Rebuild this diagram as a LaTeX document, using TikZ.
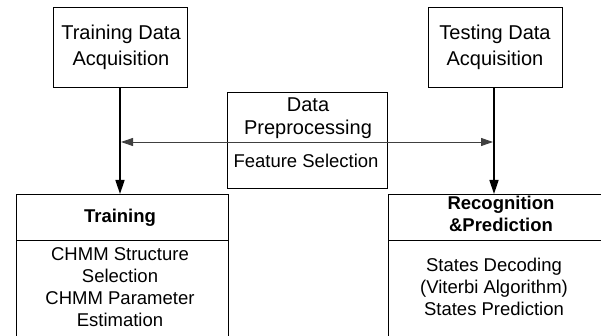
\documentclass[tikz,border=0pt]{standalone}
\usepackage{fontspec}
\setmainfont{Liberation Sans}
\usetikzlibrary{arrows.meta}
\begin{document}
\begin{tikzpicture}[x=1pt,y=-1pt,
  box/.style={draw, line width=0.8pt, inner sep=0pt},
  bigtxt/.style={font=\fontsize{20}{24}\selectfont, anchor=base, inner sep=0pt},
  smalltxt/.style={font=\fontsize{18.5}{22}\selectfont, anchor=base, inner sep=0pt},
  boldtxt/.style={font=\fontsize{18.5}{22}\selectfont\bfseries, anchor=base, inner sep=0pt},
  flow/.style={line width=1.6pt, -{Triangle[length=14pt,width=9pt]}},
  link/.style={line width=0.9pt, draw=black!75, {Triangle[length=12pt,width=8pt]}-{Triangle[length=12pt,width=8pt]}}]
\useasboundingbox (0,0) rectangle (601,336);
\clip (0,0) rectangle (601,336);
% top boxes
\node[box, minimum width=134pt, minimum height=80pt, anchor=north west] (tra) at (53,7) {};
\node[bigtxt] (tra1) at (121,40) {Training Data};
\node[bigtxt] (tra2) at (121,65.7) {Acquisition};
\node[box, minimum width=134pt, minimum height=80pt, anchor=north west] (tes) at (428,7) {};
\node[bigtxt] (tes1) at (495,40) {Testing Data};
\node[bigtxt] (tes2) at (495,65.7) {Acquisition};
% middle box
\node[box, minimum width=160pt, minimum height=96pt, anchor=north west] (mid) at (227,92) {};
\node[bigtxt] (mid1) at (308,111.7) {Data};
\node[bigtxt] (mid2) at (308,135) {Preprocessing};
\node[smalltxt] (mid3) at (306,168) {Feature Selection};
% bottom boxes
\node[box, minimum width=212pt, minimum height=160pt, anchor=north west] (trn) at (16,194) {};
\draw[line width=0.8pt] (16,240) -- (228,240);
\node[boldtxt] (trnh) at (120,223) {Training};
\node[smalltxt] (trn1) at (120,260) {CHMM Structure};
\node[smalltxt] (trn2) at (120,282) {Selection};
\node[smalltxt] (trn3) at (120,304.5) {CHMM Parameter};
\node[smalltxt] (trn4) at (120,326.5) {Estimation};
\node[box, minimum width=240pt, minimum height=160pt, anchor=north west] (rec) at (388,194) {};
\draw[line width=0.8pt] (388,240) -- (630,240);
\node[boldtxt] (rech1) at (501,210) {Recognition};
\node[boldtxt] (rech2) at (501,231.5) {\&Prediction};
\node[smalltxt] (rec1) at (494,271.5) {States Decoding};
\node[smalltxt] (rec2) at (494,293.5) {(Viterbi Algorithm)};
\node[smalltxt] (rec3) at (494,315.5) {States Prediction};
% connectors
\coordinate (trtop) at (120,194);
\coordinate (tetop) at (494,194);
\draw[flow] (tra.south -| trtop) -- (trtop);
\draw[flow] (tes.south -| tetop) -- (tetop);
\coordinate (hl) at (121,142);
\coordinate (hr) at (493,142);
\draw[link] (hl) -- (hr);
\end{tikzpicture}
\end{document}
